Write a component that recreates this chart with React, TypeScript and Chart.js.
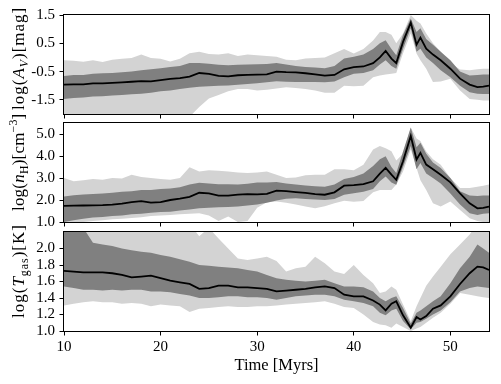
import React, { useEffect, useRef } from 'react';
import { Chart, registerables } from 'chart.js';

Chart.register(...registerables);

// ---------- data ----------
const TIME = [10,11,12,13,14,15,16,17,18,19,20,21,22,23,24,25,26,27,28,29,30,31,32,33,34,35,36,37,38,39,40,41,42,42.7,43.3,43.9,44.4,45.1,45.9,46.5,46.9,47.5,48.2,49,50,51,52,52.8,53.4,54];
const X_TICKS = [10, 20, 30, 40, 50];

// log(A_V) [mag]: median, inner band (hi/lo), outer band (hi/lo)
const AV_MED = [-0.96,-0.95,-0.95,-0.92,-0.92,-0.9,-0.88,-0.86,-0.84,-0.85,-0.8,-0.76,-0.73,-0.68,-0.55,-0.58,-0.65,-0.67,-0.63,-0.62,-0.61,-0.6,-0.5,-0.52,-0.53,-0.56,-0.6,-0.64,-0.62,-0.42,-0.34,-0.32,-0.2,0.0,0.23,-0.04,-0.2,0.55,1.23,0.45,0.7,0.31,0.1,-0.1,-0.4,-0.75,-0.96,-1.05,-1.03,-1.0];
const AV_DHI = [-0.66,-0.62,-0.62,-0.58,-0.56,-0.55,-0.52,-0.5,-0.45,-0.42,-0.38,-0.34,-0.3,-0.2,-0.2,-0.22,-0.26,-0.28,-0.26,-0.25,-0.24,-0.23,-0.2,-0.25,-0.3,-0.34,-0.36,-0.38,-0.3,-0.04,0.02,0.1,0.3,0.5,0.61,0.3,0.08,0.8,1.38,0.9,1.03,0.65,0.45,0.2,-0.1,-0.5,-0.64,-0.62,-0.6,-0.6];
const AV_DLO = [-1.47,-1.43,-1.42,-1.38,-1.37,-1.35,-1.33,-1.3,-1.28,-1.25,-1.2,-1.17,-1.12,-1.07,-1.04,-1.02,-1.0,-0.99,-0.97,-0.94,-0.91,-0.88,-0.84,-0.86,-0.87,-0.87,-0.87,-0.88,-0.85,-0.7,-0.58,-0.55,-0.45,-0.25,-0.1,-0.3,-0.4,0.3,1.03,0.2,0.31,0.0,-0.2,-0.45,-0.7,-1.0,-1.23,-1.28,-1.29,-1.29];
const AV_LHI = [-0.1,-0.12,-0.15,-0.1,-0.16,-0.08,-0.05,-0.02,0.1,-0.02,-0.05,-0.14,-0.05,0.15,0.2,0.12,0.1,0.15,0.05,0.1,0.08,0.05,0.02,-0.08,-0.1,-0.04,-0.02,0.0,0.15,0.3,0.14,0.3,0.6,0.9,0.9,0.8,0.5,0.85,1.5,1.3,1.2,0.85,0.5,0.2,-0.2,-0.43,-0.45,-0.42,-0.4,-0.4];
const AV_LLO = [-2.3,-2.3,-2.3,-2.3,-2.3,-2.3,-2.3,-2.3,-2.3,-2.3,-2.3,-2.3,-2.3,-2.1,-1.75,-1.45,-1.33,-1.2,-1.12,-1.12,-1.17,-1.14,-1.1,-1.05,-1.08,-1.12,-1.17,-1.25,-1.25,-1.0,-1.02,-1.0,-0.7,-0.64,-0.6,-0.58,-0.55,0.15,0.85,0.14,-0.1,-0.4,-0.87,-0.85,-0.75,-1.17,-1.47,-1.5,-1.52,-1.52];
const AV_TICKS = [-1.5, -0.5, 0.5, 1.5];

// log(n_H) [cm^-3]
const NH_MED = [1.73,1.74,1.75,1.76,1.77,1.79,1.84,1.9,1.95,1.88,1.9,2.0,2.06,2.14,2.33,2.3,2.2,2.2,2.24,2.27,2.26,2.28,2.43,2.4,2.36,2.32,2.27,2.24,2.35,2.65,2.68,2.72,2.85,3.2,3.46,3.15,2.92,3.76,4.91,3.84,4.14,3.61,3.4,3.15,2.8,2.3,1.85,1.62,1.64,1.7];
const NH_DHI = [2.16,2.22,2.25,2.27,2.3,2.33,2.37,2.4,2.45,2.45,2.5,2.52,2.58,2.7,2.78,2.75,2.72,2.72,2.7,2.74,2.8,2.8,2.82,2.75,2.7,2.66,2.62,2.6,2.7,2.95,3.05,3.2,3.55,3.85,3.99,3.5,3.23,4.2,5.29,4.4,4.6,4.1,3.7,3.45,3.0,2.4,2.2,2.18,2.2,2.2];
const NH_DLO = [1.0,1.08,1.15,1.2,1.23,1.27,1.3,1.35,1.38,1.42,1.45,1.47,1.52,1.57,1.62,1.65,1.67,1.68,1.7,1.75,1.8,1.88,1.98,2.06,2.08,2.05,2.02,2.0,2.05,2.24,2.31,2.38,2.5,2.85,3.07,2.8,2.69,3.5,4.45,3.4,3.68,3.2,3.0,2.75,2.3,1.8,1.4,1.32,1.38,1.4];
const NH_LHI = [3.0,2.85,2.9,2.95,2.92,3.0,2.98,3.15,3.05,3.0,2.95,2.92,3.0,3.49,3.3,3.35,3.33,3.3,3.25,3.23,3.25,3.3,3.15,3.0,3.02,3.12,3.15,3.15,3.4,3.4,3.35,3.6,4.3,4.45,4.35,4.22,3.8,4.1,5.29,4.8,4.68,4.2,3.85,3.6,3.0,2.54,2.54,2.6,2.65,2.7];
const NH_LLO = [0.9,0.95,1.0,1.05,1.08,1.12,1.15,1.18,1.22,1.27,1.3,1.32,1.35,1.38,1.4,1.3,1.05,1.25,1.0,1.05,1.65,1.9,1.93,1.87,1.8,1.7,1.63,1.72,1.85,1.97,1.92,1.95,2.35,2.45,2.46,2.46,2.7,3.3,4.3,3.46,2.9,2.46,1.85,1.7,1.93,1.55,1.17,1.05,1.0,1.0];
const NH_TICKS = [1, 2, 3, 4, 5];

// log(T_gas) [K]
const TG_MED = [1.73,1.72,1.71,1.71,1.71,1.7,1.68,1.65,1.66,1.67,1.64,1.61,1.59,1.57,1.51,1.52,1.55,1.55,1.53,1.53,1.52,1.51,1.48,1.49,1.5,1.51,1.53,1.54,1.52,1.44,1.42,1.42,1.37,1.32,1.25,1.33,1.36,1.19,1.04,1.17,1.14,1.18,1.27,1.31,1.42,1.57,1.7,1.78,1.77,1.74];
const TG_DHI = [2.3,2.3,2.25,2.07,2.05,2.03,2.0,1.98,1.96,1.95,1.92,1.9,1.87,1.84,1.8,1.79,1.78,1.77,1.76,1.74,1.72,1.68,1.64,1.62,1.61,1.6,1.61,1.62,1.58,1.54,1.54,1.53,1.48,1.4,1.36,1.4,1.42,1.28,1.09,1.22,1.25,1.3,1.36,1.42,1.58,1.76,1.9,2.05,2.0,1.95];
const TG_DLO = [1.54,1.52,1.5,1.5,1.49,1.5,1.49,1.5,1.5,1.48,1.48,1.47,1.45,1.43,1.4,1.4,1.41,1.42,1.42,1.41,1.41,1.4,1.38,1.4,1.42,1.43,1.44,1.44,1.42,1.38,1.36,1.34,1.3,1.22,1.19,1.25,1.27,1.12,1.02,1.1,1.11,1.15,1.2,1.25,1.35,1.48,1.52,1.54,1.53,1.52];
const TG_LHI = [2.3,2.3,2.3,2.3,2.3,2.3,2.3,2.3,2.3,2.3,2.3,2.3,2.3,2.3,2.15,2.25,2.12,2.0,1.88,1.86,1.88,1.9,1.85,1.72,1.76,1.78,1.9,1.82,1.72,1.69,1.8,1.68,1.58,1.46,1.48,1.54,1.5,1.32,1.12,1.3,1.4,1.55,1.66,1.78,1.93,2.05,2.17,2.3,2.3,2.3];
const TG_LLO = [1.31,1.33,1.35,1.36,1.35,1.35,1.33,1.34,1.33,1.3,1.32,1.31,1.3,1.23,1.27,1.28,1.29,1.3,1.29,1.29,1.3,1.3,1.31,1.32,1.33,1.34,1.35,1.36,1.33,1.29,1.28,1.2,1.11,1.08,1.07,1.04,1.09,1.05,1.0,1.03,1.05,1.1,1.16,1.22,1.33,1.46,1.44,1.42,1.41,1.4];
const TG_TICKS = [1.0, 1.2, 1.4, 1.6, 1.8, 2.0];

// ---------- helpers ----------
const FONT = '"Liberation Serif", "Times New Roman", serif';
const W = 501;
const H = 384;

type Seg = { t: string; it?: boolean; sub?: boolean; sup?: boolean };

interface Panel {
  med: number[]; dhi: number[]; dlo: number[]; lhi: number[]; llo: number[];
  ymin: number; ymax: number; yticks: number[];
  top: number; bottom: number; xAxisH: number; showX: boolean;
  label: Seg[]; labelStart: number; spacing: number;
}

const PANELS: Panel[] = [
  {
    med: AV_MED, dhi: AV_DHI, dlo: AV_DLO, lhi: AV_LHI, llo: AV_LLO,
    ymin: -2.0, ymax: 1.5, yticks: AV_TICKS,
    top: 15, bottom: 114, xAxisH: 10, showX: false,
    label: [{ t: 'log(' }, { t: 'A', it: true }, { t: 'V', it: true, sub: true }, { t: ')[mag]' }],
    labelStart: 110, spacing: 1,
  },
  {
    med: NH_MED, dhi: NH_DHI, dlo: NH_DLO, lhi: NH_LHI, llo: NH_LLO,
    ymin: 1.0, ymax: 5.5, yticks: NH_TICKS,
    top: 123, bottom: 222, xAxisH: 10, showX: false,
    label: [{ t: 'log(' }, { t: 'n', it: true }, { t: 'H', sub: true }, { t: ')[cm' }, { t: '−3', sup: true }, { t: ']' }],
    labelStart: 211, spacing: 0.2,
  },
  {
    med: TG_MED, dhi: TG_DHI, dlo: TG_DLO, lhi: TG_LHI, llo: TG_LLO,
    ymin: 1.0, ymax: 2.2, yticks: TG_TICKS,
    top: 232, bottom: 331, xAxisH: 53, showX: true,
    label: [{ t: 'log(' }, { t: 'T', it: true }, { t: 'gas', sub: true }, { t: ')[K]' }],
    labelStart: 318, spacing: 1,
  },
];

function drawRich(ctx: CanvasRenderingContext2D, segs: Seg[], x: number, yStart: number, size: number, spacing: number) {
  ctx.save();
  ctx.setTransform(1, 0, 0, 1, 0, 0);
  ctx.translate(x, yStart);
  ctx.rotate(-Math.PI / 2);
  ctx.fillStyle = '#000';
  ctx.textBaseline = 'alphabetic';
  ctx.textAlign = 'left';
  const anyCtx = ctx as any;
  if ('letterSpacing' in anyCtx) anyCtx.letterSpacing = spacing + 'px';
  let cx = 0;
  for (const s of segs) {
    const sz = s.sub || s.sup ? size * 0.7 : size;
    const dy = s.sub ? size * 0.22 : s.sup ? -size * 0.4 : 0;
    ctx.font = (s.it ? 'italic ' : '') + sz + 'px ' + FONT;
    ctx.fillText(s.t, cx, dy);
    cx += ctx.measureText(s.t).width;
  }
  if ('letterSpacing' in anyCtx) anyCtx.letterSpacing = '0px';
  ctx.restore();
}

const framePlugin = {
  id: 'frame',
  afterDatasetsDraw(chart: any) {
    const { ctx, chartArea } = chart;
    const { left, top, right, bottom } = chartArea;
    ctx.save();
    ctx.strokeStyle = '#000';
    ctx.lineWidth = 1;
    ctx.strokeRect(left - 0.5, top - 0.5, right - left + 1, bottom - top + 1);
    ctx.restore();
  },
};

function pts(a: number[]) {
  return TIME.map((t, i) => ({ x: t, y: a[i] }));
}

function buildChart(canvas: HTMLCanvasElement, p: Panel) {
  const hidden = { borderColor: 'rgba(0,0,0,0)', borderWidth: 0, pointRadius: 0 };
  const tickFont = { family: FONT, size: 15 };
  const grid = { display: true, drawOnChartArea: false, drawTicks: true, tickLength: 4.5, color: '#000', lineWidth: 1 };
  return new Chart(canvas, {
    type: 'line',
    data: {
      datasets: [
        { data: pts(p.med), borderColor: '#000', borderWidth: 1.8, pointRadius: 0, fill: false },
        { data: pts(p.dhi), ...hidden, fill: false },
        { data: pts(p.dlo), ...hidden, fill: '-1', backgroundColor: '#808080' },
        { data: pts(p.lhi), ...hidden, fill: false },
        { data: pts(p.llo), ...hidden, fill: '-1', backgroundColor: '#d3d3d3' },
      ] as any,
    },
    options: {
      animation: false,
      responsive: false,
      devicePixelRatio: 1,
      events: [],
      layout: { padding: { top: p.top, bottom: H - p.bottom - p.xAxisH, left: 0, right: 12 } },
      elements: { line: { tension: 0 } },
      plugins: { legend: { display: false }, tooltip: { enabled: false } },
      scales: {
        x: {
          type: 'linear',
          min: 10,
          max: 54,
          afterBuildTicks: (ax: any) => { ax.ticks = X_TICKS.map((v) => ({ value: v })); },
          afterFit: (ax: any) => { ax.height = p.xAxisH; },
          ticks: {
            display: p.showX,
            font: tickFont,
            color: '#000',
            padding: 3,
            maxRotation: 0,
            autoSkip: false,
            callback: (v: any) => String(v),
          },
          grid,
          border: { display: false },
          title: {
            display: p.showX,
            text: 'Time [Myrs]',
            color: '#000',
            font: { family: FONT, size: 16.5 },
            padding: { top: 0, bottom: 8.6 },
          },
        },
        y: {
          type: 'linear',
          min: p.ymin,
          max: p.ymax,
          afterBuildTicks: (ax: any) => { ax.ticks = p.yticks.map((v) => ({ value: v })); },
          afterFit: (ax: any) => { ax.width = 64; },
          ticks: {
            font: tickFont,
            color: '#000',
            padding: 4.5,
            crossAlign: 'near',
            autoSkip: false,
            callback: (v: any) => Number(v).toFixed(1),
          },
          grid,
          border: { display: false },
        },
      },
    } as any,
    plugins: [framePlugin],
  });
}

export default function App() {
  const r0 = useRef<HTMLCanvasElement>(null);
  const r1 = useRef<HTMLCanvasElement>(null);
  const r2 = useRef<HTMLCanvasElement>(null);
  const rl = useRef<HTMLCanvasElement>(null);

  useEffect(() => {
    const refs = [r0, r1, r2];
    const charts = refs.map((r, i) => buildChart(r.current as HTMLCanvasElement, PANELS[i]));
    const lc = rl.current as HTMLCanvasElement;
    const lctx = lc.getContext('2d') as CanvasRenderingContext2D;
    lctx.clearRect(0, 0, W, H);
    PANELS.forEach((p) => drawRich(lctx, p.label, 24, p.labelStart, 17, p.spacing));
    return () => {
      charts.forEach((c) => c.destroy());
      lctx.clearRect(0, 0, W, H);
    };
  }, []);

  const cstyle: React.CSSProperties = { position: 'absolute', left: 0, top: 0, width: W, height: H };
  return (
    <div style={{ position: 'absolute', left: 0, top: 0, width: W, height: H, background: '#fff' }}>
      <canvas ref={r0} width={W} height={H} style={cstyle} />
      <canvas ref={r1} width={W} height={H} style={cstyle} />
      <canvas ref={r2} width={W} height={H} style={cstyle} />
      <canvas ref={rl} width={W} height={H} style={cstyle} />
    </div>
  );
}
